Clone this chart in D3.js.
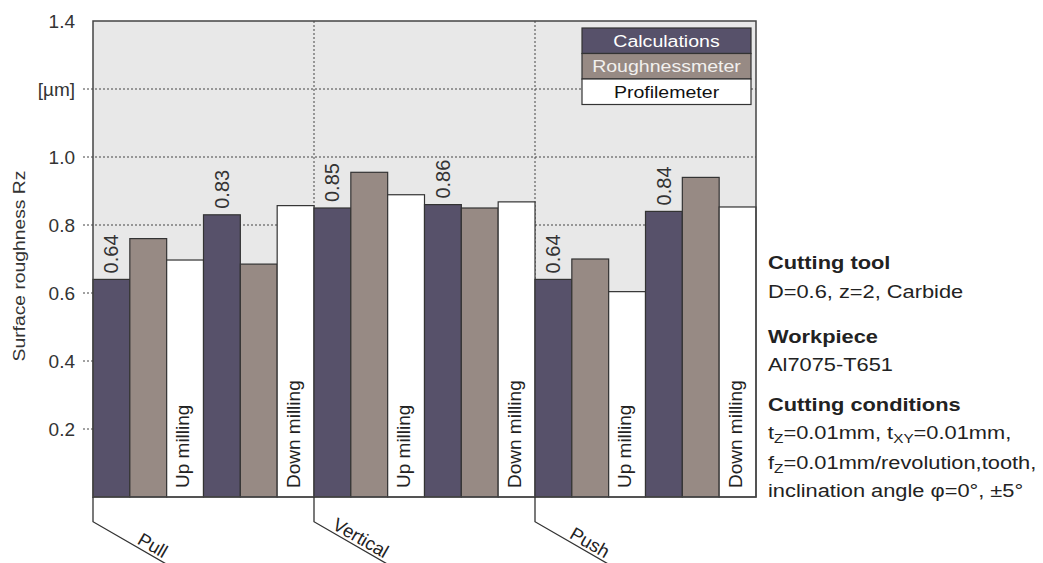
<!DOCTYPE html>
<html>
<head>
<meta charset="utf-8">
<script src="https://cdn.jsdelivr.net/npm/d3@7"></script>
<style>
  html, body { margin: 0; padding: 0; background: #fff; }
  svg { display: block; font-family: "Liberation Sans", Arial, sans-serif; }
</style>
</head>
<body>
<svg id="chart" width="1043" height="563"></svg>
<script>
// Milling directions (groups) and milling modes inside each group
const groups = ["Pull", "Vertical", "Push"];
const modes = ["Up milling", "Down milling"];

// Surface roughness Rz [µm], order: Pull-Up, Pull-Down, Vertical-Up, Vertical-Down, Push-Up, Push-Down
const calculations   = [0.64, 0.83, 0.85, 0.86, 0.64, 0.84];
const roughnessmeter = [0.76, 0.685, 0.955, 0.85, 0.70, 0.94];
const profilemeter   = [0.697, 0.857, 0.889, 0.868, 0.604, 0.853];

const seriesNames = ["Calculations", "Roughnessmeter", "Profilemeter"];

// Y axis ticks
const yTickValues = [1.4, 1.2, 1.0, 0.8, 0.6, 0.4, 0.2];
const yTickLabels = ["1.4", "[µm]", "1.0", "0.8", "0.6", "0.4", "0.2"];
const gridValues  = [1.2, 1.0, 0.8, 0.6, 0.4, 0.2];

const colors = { Calculations: "#57516a", Roughnessmeter: "#978a84", Profilemeter: "#ffffff" };
const legendText = { Calculations: "#ffffff", Roughnessmeter: "#f2f0ee", Profilemeter: "#111111" };

const svg = d3.select("#chart");
const plotLeft = 93, plotRight = 756, plotTop = 21, plotBottom = 497;

const y = d3.scaleLinear().domain([0, 1.4]).range([plotBottom, plotTop]);
const xGroup = d3.scaleBand().domain(groups).range([plotLeft, plotRight]).padding(0);
const slots = [];
modes.forEach(m => seriesNames.forEach(s => slots.push(m + "|" + s)));
const xSlot = d3.scaleBand().domain(slots).range([0, xGroup.bandwidth()]).padding(0);

// Flatten the data into bar records
const seriesValues = { Calculations: calculations, Roughnessmeter: roughnessmeter, Profilemeter: profilemeter };
const bars = [];
groups.forEach((g, gi) => {
  modes.forEach((m, mi) => {
    seriesNames.forEach(s => {
      bars.push({ group: g, mode: m, series: s, value: seriesValues[s][gi * 2 + mi] });
    });
  });
});

// Plot background
svg.append("rect")
  .attr("x", plotLeft).attr("y", plotTop)
  .attr("width", plotRight - plotLeft).attr("height", plotBottom - plotTop)
  .attr("fill", "#e8e8e8");

// Horizontal dotted gridlines (extend slightly outside as ticks)
svg.append("g").selectAll("line").data(gridValues).join("line")
  .attr("x1", plotLeft - 10).attr("x2", plotRight)
  .attr("y1", d => y(d)).attr("y2", d => y(d))
  .attr("stroke", "#444").attr("stroke-width", 1)
  .attr("stroke-dasharray", "2,2");

// Vertical dotted separators between groups
svg.append("g").selectAll("line").data(groups.slice(1)).join("line")
  .attr("x1", d => xGroup(d)).attr("x2", d => xGroup(d))
  .attr("y1", plotTop).attr("y2", plotBottom)
  .attr("stroke", "#444").attr("stroke-width", 1)
  .attr("stroke-dasharray", "2,2");

// Bars
const barX = d => xGroup(d.group) + xSlot(d.mode + "|" + d.series);
svg.append("g").selectAll("rect").data(bars).join("rect")
  .attr("x", barX)
  .attr("y", d => y(d.value))
  .attr("width", xSlot.bandwidth())
  .attr("height", d => y(0) - y(d.value))
  .attr("fill", d => colors[d.series])
  .attr("stroke", "#333")
  .attr("stroke-width", 1.2);

// Value labels on the calculated bars
svg.append("g").selectAll("text")
  .data(bars.filter(d => d.series === "Calculations")).join("text")
  .attr("transform", d => `translate(${barX(d) + xSlot.bandwidth() / 2 + 7},${y(d.value) - 6}) rotate(-90)`)
  .attr("text-anchor", "start")
  .attr("font-size", 20)
  .attr("fill", "#333")
  .text(d => d3.format(".2f")(d.value));

// Milling-mode labels inside the profilemeter bars
svg.append("g").selectAll("text")
  .data(bars.filter(d => d.series === "Profilemeter")).join("text")
  .attr("transform", d => `translate(${barX(d) + xSlot.bandwidth() / 2 + 4},${y(0) - 9}) rotate(-90)`)
  .attr("text-anchor", "start")
  .attr("font-size", 19)
  .attr("fill", "#222")
  .text(d => d.mode);

// Plot frame
svg.append("rect")
  .attr("x", plotLeft).attr("y", plotTop)
  .attr("width", plotRight - plotLeft).attr("height", plotBottom - plotTop)
  .attr("fill", "none").attr("stroke", "#444").attr("stroke-width", 1.5);

// Y tick labels
svg.append("g").selectAll("text").data(yTickValues).join("text")
  .attr("x", 75).attr("y", d => y(d))
  .attr("dy", "0.35em")
  .attr("text-anchor", "end")
  .attr("font-size", 19)
  .attr("fill", "#333")
  .text((d, i) => yTickLabels[i]);

// Y axis title
svg.append("text")
  .attr("transform", "translate(25,266) rotate(-90) scale(1.17,1)")
  .attr("text-anchor", "middle")
  .attr("font-size", 16.5)
  .attr("fill", "#333")
  .text("Surface roughness Rz");

// Group labels with leader lines under the axis
const ang = 30 * Math.PI / 180;
const drop = 24.7, diagLen = 95, labelEnd = 79, labelOff = 3;
const leaders = svg.append("g");
groups.forEach(g => {
  const x0 = xGroup(g);
  const cx = x0, cy = plotBottom + drop;
  leaders.append("path")
    .attr("d", `M${x0},${plotBottom}L${cx},${cy}L${cx + diagLen * Math.cos(ang)},${cy + diagLen * Math.sin(ang)}`)
    .attr("fill", "none").attr("stroke", "#333").attr("stroke-width", 1.3);
  const tx = cx + labelEnd * Math.cos(ang) + labelOff * Math.sin(ang);
  const ty = cy + labelEnd * Math.sin(ang) - labelOff * Math.cos(ang);
  leaders.append("text")
    .attr("transform", `translate(${tx},${ty}) rotate(30)`)
    .attr("text-anchor", "end")
    .attr("font-size", 18.5)
    .attr("fill", "#222")
    .text(g);
});

// Legend
const legX = 582, legY = 28, legW = 169, legH = 25.5;
const legend = svg.append("g");
seriesNames.forEach((s, i) => {
  legend.append("rect")
    .attr("x", legX).attr("y", legY + i * legH)
    .attr("width", legW).attr("height", legH)
    .attr("fill", colors[s]).attr("stroke", "#333").attr("stroke-width", 1.2);
  legend.append("text")
    .attr("transform", `translate(${legX + legW / 2},${legY + i * legH + legH / 2}) scale(1.15,1)`)
    .attr("dy", "0.36em")
    .attr("text-anchor", "middle")
    .attr("font-size", 17)
    .attr("fill", legendText[s])
    .text(s);
});

// Experiment conditions block
const info = svg.append("g").attr("transform", "translate(768,0) scale(1.18,1)").attr("fill", "#222");
const infoFont = 18.5;
function line(yPos, bold) {
  return info.append("text").attr("x", 0).attr("y", yPos)
    .attr("font-size", infoFont).attr("font-weight", bold ? "bold" : "normal");
}
line(269, true).text("Cutting tool");
line(298, false).text("D=0.6, z=2, Carbide");
line(343, true).text("Workpiece");
line(371.5, false).text("Al7075-T651");
line(411.5, true).text("Cutting conditions");

const t1 = line(439, false);
t1.append("tspan").text("t");
t1.append("tspan").attr("dy", 4).attr("font-size", 13).text("Z");
t1.append("tspan").attr("dy", -4).text("=0.01mm, t");
t1.append("tspan").attr("dy", 4).attr("font-size", 13).text("XY");
t1.append("tspan").attr("dy", -4).text("=0.01mm,");

const t2 = line(469, false);
t2.append("tspan").text("f");
t2.append("tspan").attr("dy", 4).attr("font-size", 13).text("Z");
t2.append("tspan").attr("dy", -4).text("=0.01mm/revolution,tooth,");

line(497.5, false).text("inclination angle φ=0°, ±5°");
</script>
</body>
</html>
